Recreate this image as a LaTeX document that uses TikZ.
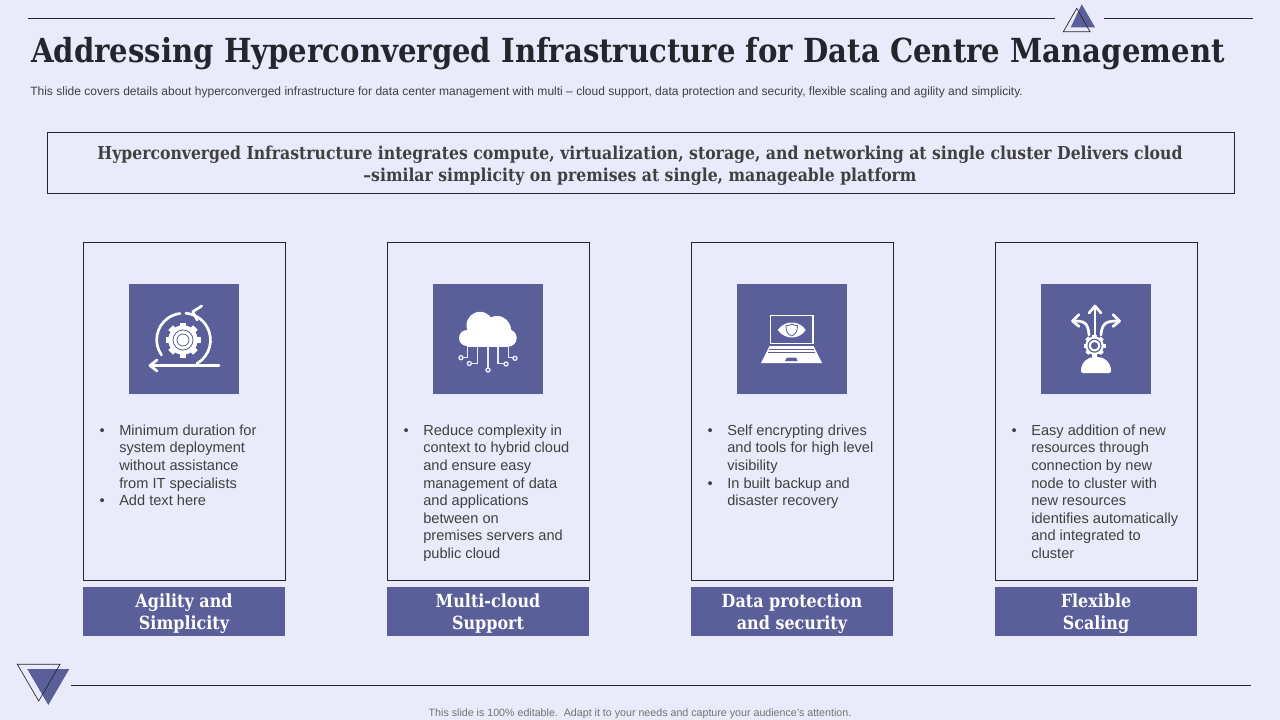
\documentclass[tikz,border=0pt]{standalone}
\usepackage{xcolor}
\usepackage{fontspec}
\setmainfont{Liberation Sans}
\newfontfamily\slabfont[FakeStretch=0.88,Ligatures=TeX]{DejaVu Serif}
\definecolor{slidebg}{HTML}{E9EBFA}
\definecolor{iconblue}{HTML}{5A5F99}
\definecolor{inkdark}{HTML}{25252D}
\definecolor{bodygrey}{HTML}{404040}
\newcommand{\itm}{\leavevmode\llap{\textbullet\hspace{10.9pt}}}
\tikzset{
    rulebox/.style={draw=inkdark, line width=0.55pt},
    iconbox/.style={fill=iconblue},
    iconline/.style={white, line width=2pt, line cap=round, line join=round},
    wireline/.style={slidebg, line width=0.9pt},
    wirenode/.style={slidebg, fill=iconblue, line width=1pt},
    headbox/.style={text=white, align=center, font=\slabfont\bfseries\fontsize{13.6}{16.5}\selectfont},
    bodytext/.style={anchor=north west, align=left, inner sep=0pt, text=bodygrey, font=\fontsize{10.95}{13.2}\selectfont},
    gearicon/.pic={
        \foreach \a in {0,45,...,315}
            \fill[white, rotate=\a] (-0.19,0) rectangle (0.19,1);
        \fill[white] (0,0) circle (0.84);
    }
}
\begin{document}
\begin{tikzpicture}[x=0.75pt, y=-0.75pt]
    \fill[slidebg] (0,0) rectangle (1280,720);
    % top rule and triangles
    \draw[rulebox] (28,18) -- (1055,18);
    \draw[rulebox] (1104,18) -- (1253,18);
    \fill[iconblue] (1081.7,4.3) -- (1095,27.3) -- (1070.7,27.3) -- cycle;
    \draw[inkdark, line width=0.5pt] (1076.7,8.3) -- (1090,31.7) -- (1063.3,31.7) -- cycle;
    % heading
    \node[anchor=west, inner sep=0pt, text=inkdark, font=\slabfont\bfseries\fontsize{24.84}{28}\selectfont] (title) at (31,53.5) {Addressing Hyperconverged Infrastructure for Data Centre Management};
    \node[anchor=west, inner sep=0pt, text=bodygrey, font=\fontsize{9.03}{11}\selectfont] (subtitle) at (30,92) {This slide covers details about hyperconverged infrastructure for data center management with multi -- cloud support, data protection and security, flexible scaling and agility and simplicity.};
    \draw[rulebox] (47,132) rectangle (1234,193);
    \node[align=center, text=bodygrey, font=\slabfont\bfseries\fontsize{13.35}{16.5}\selectfont] (banner) at (640,166) {Hyperconverged Infrastructure integrates compute, virtualization, storage, and networking at single cluster Delivers cloud\\--similar simplicity on premises at single, manageable platform};
    % cards
    \draw[rulebox] (83,242) rectangle (285,580);
    \draw[rulebox] (387,242) rectangle (589,580);
    \draw[rulebox] (691,242) rectangle (893,580);
    \draw[rulebox] (995,242) rectangle (1197,580);
    \fill[iconbox] (129,284) rectangle (239,394);
    \fill[iconbox] (433,284) rectangle (543,394);
    \fill[iconbox] (737,284) rectangle (847,394);
    \fill[iconbox] (1041,284) rectangle (1151,394);
    % icon one
    \pic[scale=17.5] at (183,340) {gearicon};
    \draw[iconblue, line width=0.6pt] (183,340) circle (10);
    \draw[iconblue, line width=0.6pt] (183,340) circle (6);
    \draw[iconline] (161.5,355) arc (145:263:26.5);
    \draw[iconline] (197,363.5) arc (60:-85:27);
    \draw[iconline] (201.7,306) -- (192.7,311.7) -- (197.3,320);
    \draw[iconline] (219,365.5) -- (151,365.5);
    \draw[iconline] (157,360) -- (150,365.5) -- (157,371);
    % icon two
    \fill[white] (467,338) circle (8);
    \fill[white] (480,325.3) circle (13.5);
    \fill[white] (497,330) circle (14);
    \fill[white] (508,338) circle (8.7);
    \fill[white] (467,335) rectangle (508,346.7);
    \draw[wireline] (467.7,346.7) -- (467.7,357.7) -- (461,357.7);
    \draw[wireline] (477.7,346.7) -- (477.7,363.3) -- (469.3,363.3);
    \draw[wireline] (488,346.7) -- (488,370);
    \draw[wireline] (498,346.7) -- (498,363.3) -- (506,363.3);
    \draw[wireline] (508.3,346.7) -- (508.3,357.7) -- (515,357.7);
    \draw[wirenode] (461,357.7) circle (2);
    \draw[wirenode] (469.3,363.5) circle (2);
    \draw[wirenode] (488,370) circle (2);
    \draw[wirenode] (506,364) circle (2);
    \draw[wirenode] (515,358.3) circle (2);
    % icon three
    \draw[white, line width=1.3pt] (770.5,315.5) rectangle (813,343.5);
    \fill[white] (777.7,330) .. controls (785,320) and (799,320) .. (805.7,330) .. controls (799,340) and (785,340) .. (777.7,330) -- cycle;
    \draw[iconblue, line width=0.6pt] (791.7,324) .. controls (794,325.5) and (796,325.5) .. (797.5,325.5) .. controls (797.5,331) and (796,334) .. (791.7,336) .. controls (787,334) and (786,331) .. (786,325.5) .. controls (788,325.5) and (790,325.5) .. (791.7,324) -- cycle;
    \fill[white] (769.5,346) -- (813.5,346) -- (822,363) -- (761,363) -- cycle;
    \draw[iconblue, line width=0.7pt] (769,349) -- (814,349);
    \draw[iconblue, line width=0.7pt] (768,352.5) -- (815,352.5);
    \fill[iconblue] (787,357.5) -- (796,357.5) -- (797.7,361) -- (785,361) -- cycle;
    % icon four
    \fill[white, rounded corners=1.5pt] (1081,373) .. controls (1081,362) and (1088,357) .. (1096,357) .. controls (1104,357) and (1111,362) .. (1111,373) -- cycle;
    \pic[scale=11] at (1094.5,345.7) {gearicon};
    \fill[iconblue] (1094.5,345.7) circle (7);
    \fill[white] (1094.5,345.7) circle (5.7);
    \fill[iconblue] (1094.5,345.7) circle (3.6);
    \draw[iconline] (1095,335) -- (1095,307);
    \draw[iconline] (1089,313) -- (1095,306) -- (1101,313);
    \draw[iconline] (1089,335) .. controls (1088,322) and (1084,321) .. (1073,321);
    \draw[iconline] (1079,314.5) -- (1072.5,321) -- (1079,326.5);
    \draw[iconline] (1101,335) .. controls (1102,322) and (1107,321) .. (1119,321);
    \draw[iconline] (1113,314.5) -- (1119.5,321) -- (1113,326.5);
    % card texts
    \node[bodytext] (textone) at (119,424.5) {\itm Minimum duration for\\system deployment\\without assistance\\from IT specialists\\\itm Add text here};
    \node[bodytext] (texttwo) at (423,424.5) {\itm Reduce complexity in\\context to hybrid cloud\\and ensure easy\\management of data\\and applications\\between on\\premises servers and\\public cloud};
    \node[bodytext] (textthree) at (727,424.5) {\itm Self encrypting drives\\and tools for high level\\visibility\\\itm In built backup and\\disaster recovery};
    \node[bodytext] (textfour) at (1031,424.5) {\itm Easy addition of new\\resources through\\connection by new\\node to cluster with\\new resources\\identifies automatically\\and integrated to\\cluster};
    % card heads
    \fill[iconbox] (83,587) rectangle (285,636);
    \fill[iconbox] (387,587) rectangle (589,636);
    \fill[iconbox] (691,587) rectangle (893,636);
    \fill[iconbox] (995,587) rectangle (1197,636);
    \node[headbox] (headone) at (184,613.5) {Agility and\\Simplicity};
    \node[headbox] (headtwo) at (488,613.5) {Multi-cloud\\Support};
    \node[headbox] (headthree) at (792,613.5) {Data protection\\and security};
    \node[headbox] (headfour) at (1096,613.5) {Flexible\\Scaling};
    % bottom rule and triangles
    \fill[iconblue] (27.3,669) -- (69.3,669) -- (48.3,705) -- cycle;
    \draw[inkdark, line width=0.5pt] (17.3,664.3) -- (60,664.3) -- (38.7,701) -- cycle;
    \draw[rulebox] (71,685) -- (1251,685);
    \node[inner sep=0pt, text=black!55, font=\fontsize{8}{10}\selectfont] (footer) at (640,714) {This slide is 100\% editable.\ \ Adapt it to your needs and capture your audience's attention.};
\end{tikzpicture}
\end{document}
